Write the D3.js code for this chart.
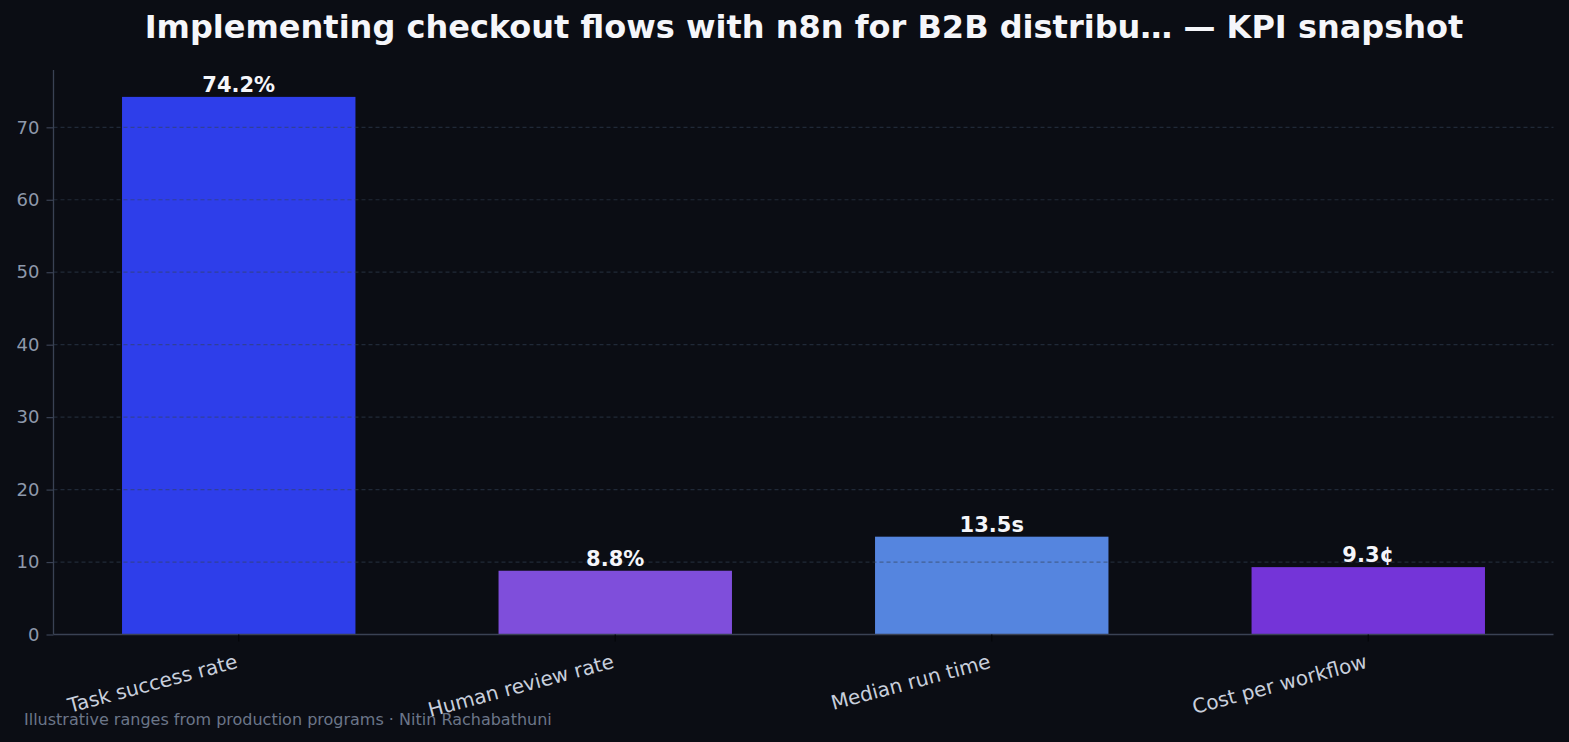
<!DOCTYPE html>
<html>
<head>
<meta charset="utf-8">
<script src="https://cdn.jsdelivr.net/npm/d3@7"></script>
<style>
  html, body { margin: 0; padding: 0; background: #0b0d14; }
  svg { display: block; font-family: "DejaVu Sans", sans-serif; }
</style>
</head>
<body>
<div id="chart"></div>
<script>
// chart data
const categories = ["Task success rate", "Human review rate", "Median run time", "Cost per workflow"];
const values = [74.2, 8.8, 13.5, 9.3];
const valueLabels = ["74.2%", "8.8%", "13.5s", "9.3¢"];
const barColors = ["#2e3eea", "#7f4edb", "#5585df", "#7434d8"];
const yTicks = [0, 10, 20, 30, 40, 50, 60, 70];
const titleText = "Implementing checkout flows with n8n for B2B distribu… — KPI snapshot";
const footerText = "Illustrative ranges from production programs · Nitin Rachabathuni";

const width = 1569, height = 742;
const margin = {top: 70, right: 15.5, bottom: 107.5, left: 53.5};

let svg = d3.select("#chart").append("svg")
    .attr("width", width)
    .attr("height", height)

svg.append("rect").attr("width", width).attr("height", height).attr("fill", "#0b0d14")

// scales
let xScale = d3.scaleBand()
    .domain(categories)
    .range([margin.left, width - margin.right])
    .paddingInner(0.38)
    .paddingOuter(0.182)
let yScale = d3.scaleLinear()
    .domain([0, d3.max(values) * 1.05])
    .range([height - margin.bottom, margin.top])

// bars
svg.append("g").attr("id", "bars")
    .selectAll("rect").data(categories).enter().append("rect")
    .attr("x", d => xScale(d))
    .attr("width", xScale.bandwidth())
    .attr("y", (d, i) => yScale(values[i]))
    .attr("height", (d, i) => yScale(0) - yScale(values[i]))
    .attr("fill", (d, i) => barColors[i])

// dashed grid, drawn over the bars
svg.append("g").attr("id", "grid")
    .selectAll("line").data(yTicks.filter(d => d > 0)).enter().append("line")
    .attr("x1", margin.left).attr("x2", width - margin.right)
    .attr("y1", d => yScale(d)).attr("y2", d => yScale(d))
    .attr("stroke", "#334155")
    .attr("stroke-opacity", 0.55)
    .attr("stroke-width", 1.2)
    .style("stroke-dasharray", ("4, 3"))

// value labels
svg.append("g").attr("id", "value_labels")
    .selectAll("text").data(categories).enter().append("text")
    .attr("x", d => xScale(d) + xScale.bandwidth() / 2)
    .attr("y", (d, i) => yScale(values[i]) - 5)
    .attr("text-anchor", "middle")
    .attr("fill", "#f5f6fa")
    .style("font-size", "21px")
    .style("font-weight", "bold")
    .text((d, i) => valueLabels[i])

// y axis
let yAxis = svg.append("g")
    .attr("transform", "translate(" + margin.left + ",0)")
    .call(d3.axisLeft(yScale).tickValues(yTicks).tickSizeOuter(0).tickSize(7).tickPadding(7))
yAxis.select(".domain").attr("stroke", "#3a4254").attr("stroke-width", 1.3)
    .attr("d", "M0," + margin.top + "V" + yScale(0))
yAxis.selectAll(".tick line").attr("stroke", "#3a4254").attr("stroke-width", 1.2)
yAxis.selectAll(".tick text")
    .attr("fill", "#8e99ab")
    .style("font-size", "18px")
    .style("font-family", "DejaVu Sans")

// x axis
let xAxis = svg.append("g")
    .attr("transform", "translate(0," + yScale(0) + ")")
    .call(d3.axisBottom(xScale).tickSizeOuter(0).tickSize(7))
xAxis.select(".domain").attr("stroke", "#3a4254").attr("stroke-width", 1.3)
    .attr("d", "M" + margin.left + ",0H" + (width - margin.right))
xAxis.selectAll(".tick line").attr("stroke", "#05060a").attr("stroke-width", 1.2)
xAxis.selectAll(".tick text")
    .attr("fill", "#c8cfdc")
    .style("font-size", "20px")
    .style("font-family", "DejaVu Sans")
    .attr("text-anchor", "end")
    .attr("x", 0).attr("y", 0).attr("dy", 0)
    .attr("transform", "translate(0,33) rotate(-15)")

// title
svg.append("text")
    .attr("x", 804)
    .attr("y", 38)
    .attr("text-anchor", "middle")
    .attr("fill", "#f5f6fa")
    .style("font-size", "32px")
    .style("font-weight", "bold")
    .text(titleText)

// footer
svg.append("text")
    .attr("x", 24)
    .attr("y", 725)
    .attr("fill", "#6b7689")
    .style("font-size", "16px")
    .text(footerText)
</script>
</body>
</html>
